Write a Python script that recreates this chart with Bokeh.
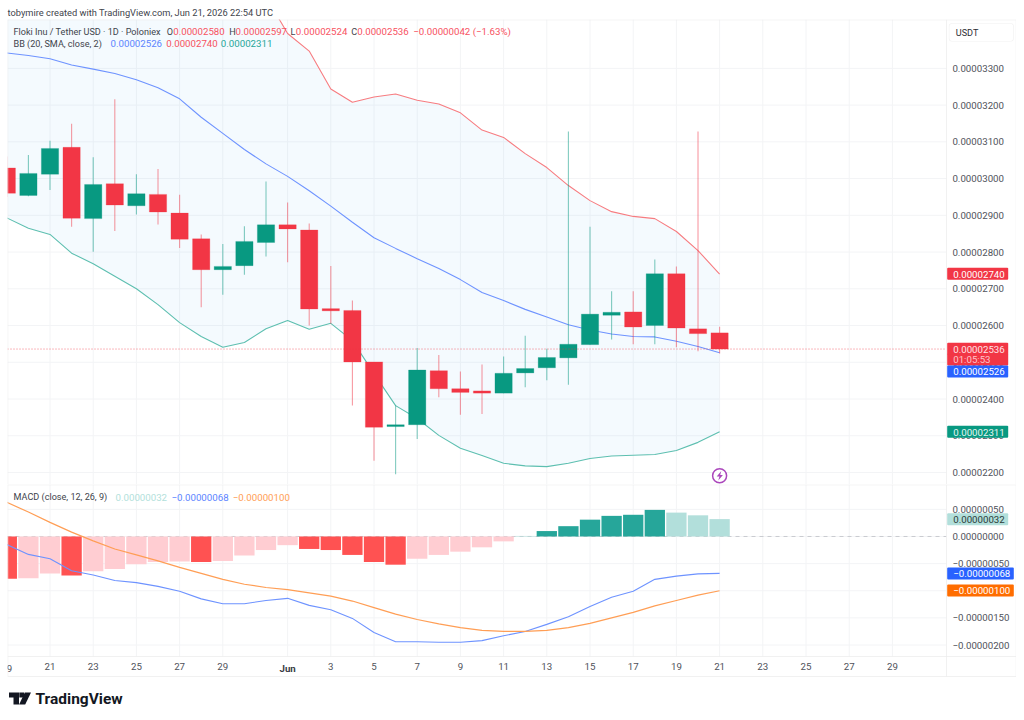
from bokeh.plotting import figure
from bokeh.layouts import column
from bokeh.models import (ColumnDataSource, Range1d, LinearAxis, FixedTicker, Label, BoxAnnotation,
                          PolyAnnotation)
from bokeh.embed import file_html
from bokeh.resources import INLINE

# all prices in units of 0.00000001 USDT
days = list(range(34))
opens = [3029,2954,3012,3085,2891,2986,2926,2957,2906,2836,2752,2763,2826,2874,2860,2646,2641,2501,2325,2330,2477,2428,2422,2416,2471,2485,2512,2548,2628,2637,2600,2741,2591,2580]
highs = [3060,3064,3103,3149,3058,3216,3012,3026,2956,2848,2822,2870,2992,2935,2878,2762,2668,2501,2382,2539,2520,2475,2494,2516,2572,2537,3128,2869,2693,2693,2780,2761,3128,2597]
lows = [2950,2952,2969,2869,2801,2857,2902,2875,2811,2650,2684,2738,2788,2772,2600,2605,2382,2232,2195,2291,2405,2357,2359,2416,2432,2451,2439,2548,2562,2549,2549,2541,2530,2524]
closes = [2960,3014,3082,2892,2984,2928,2959,2909,2835,2752,2761,2829,2874,2863,2645,2640,2501,2323,2330,2479,2428,2418,2416,2470,2483,2513,2549,2631,2636,2596,2741,2593,2578,2536]
bb_upper = [3720,3715,3700,3690,3680,3660,3640,3620,3600,3570,3540,3515,3495,3395,3347,3244,3208,3222,3230,3213,3203,3179,3132,3112,3068,3030,2981,2940,2910,2897,2891,2856,2804,2740]
bb_basis = [3342,3335,3326,3309,3298,3286,3269,3247,3217,3167,3123,3079,3040,3006,2967,2925,2881,2839,2810,2782,2755,2725,2690,2668,2644,2623,2602,2588,2577,2570,2569,2557,2543,2526]
bb_lower = [2893,2865,2848,2797,2768,2734,2700,2657,2608,2570,2541,2554,2591,2614,2590,2606,2559,2469,2382,2347,2301,2266,2246,2225,2218,2216,2225,2238,2245,2247,2249,2260,2282,2311]
macd_hist = [-78,-77,-68,-72,-64,-60,-51,-47,-46,-47,-45,-35,-25,-16,-23,-25,-34,-47,-52,-41,-34,-28,-20,-9,1,10,19,31,38,40,49,44,39,32]
macd_line = [-15,-33,-41,-63,-71,-81,-85,-92,-101,-115,-124,-124,-118,-114,-127,-135,-151,-177,-194,-194,-195,-195,-192,-183,-175,-162,-148,-129,-112,-101,-79,-73,-69,-68]
macd_signal = [63,45,26,8,-8,-23,-34,-45,-57,-68,-79,-88,-94,-98,-104,-110,-119,-131,-143,-153,-161,-168,-173,-175,-175,-173,-168,-160,-150,-140,-128,-118,-108,-100]
price_ticks = [2200,2300,2400,2500,2600,2700,2800,2900,3000,3100,3200,3300]
macd_ticks = [50,0,-50,-100,-150,-200]
time_ticks = {2:"21",4:"23",6:"25",8:"27",10:"29",13:"",15:"3",17:"5",19:"7",21:"9",23:"11",25:"13",27:"15",29:"17",31:"19",33:"21",35:"23",37:"25",39:"27",41:"29"}

UP, DOWN = "#089981", "#F23645"
FONT = "Roboto"
GRID = "#F3F4F6"
RULE = "#ECECEC"
TXT = "#4f525a"
DARK = "#41444c"
FS = "9.7px"     # numbers
FT = "9.1px"     # wording
AX_X = 43.5      # day position of the price axis

def fmt(v):
    s = f"{abs(v)*1e-8:.8f}"
    return ("\u2212" + s) if v < 0 else s

xr = Range1d(0.032, 46.745)

def make(height, yr, ticks, ylow, yhigh):
    p = figure(width=1016, height=height, x_range=xr, y_range=yr, toolbar_location=None,
               output_backend="svg", x_axis_location=None, y_axis_location=None,
               min_border_left=7, min_border_right=0, min_border_top=0, min_border_bottom=0)
    p.grid.visible = False
    p.outline_line_color = None
    if ticks:
        ax = LinearAxis(ticker=FixedTicker(ticks=ticks), fixed_location=AX_X,
                        major_label_overrides={t: fmt(t) for t in ticks},
                        major_tick_line_color=None, minor_tick_line_color=None,
                        axis_line_color=None, major_label_standoff=0,
                        major_label_text_font=FONT, major_label_text_font_size=FS, major_label_text_color=TXT)
        p.add_layout(ax, "right")
        p.segment([xr.start]*len(ticks), ticks, [AX_X]*len(ticks), ticks, line_color=GRID, line_width=1, level="underlay")
        vt = list(time_ticks)
        p.segment(vt, [ylow]*len(vt), vt, [yhigh]*len(vt), line_color=GRID, line_width=1, level="underlay")
    return p

p0 = make(19, Range1d(0, 1), None, 0, 0)
p1 = make(465, Range1d(2167.3, 3433), price_ticks, 2167.3, 3433)
p2 = make(228, Range1d(-324.4, 95.8), macd_ticks, -221.2, 95.8)

t_ax = LinearAxis(ticker=FixedTicker(ticks=list(time_ticks)), major_label_overrides=time_ticks, fixed_location=-221.2,
                  major_tick_line_color=None, minor_tick_line_color=None, axis_line_color=None,
                  major_label_standoff=0, major_label_text_font=FONT, major_label_text_font_size=FS,
                  major_label_text_color=TXT)
p2.add_layout(t_ax, "below")

# ---------- price pane
p1.varea(days, bb_lower, bb_upper, fill_color="#2196F3", fill_alpha=0.05)
p1.line(days, bb_upper, line_color="#F77C80", line_width=1.1)
p1.line(days, bb_basis, line_color="#6E93FF", line_width=1.1)
p1.line(days, bb_lower, line_color="#5DBFB0", line_width=1.1)

colors = [UP if c >= o else DOWN for o, c in zip(opens, closes)]
src = ColumnDataSource(dict(x=days, o=opens, c=closes, h=highs, l=lows, col=colors))
p1.segment("x", "h", "x", "l", source=src, line_color="col", line_alpha=0.5, line_width=1.1)
p1.vbar("x", 0.8, "o", "c", source=src, fill_color="col", line_color="col", line_alpha=0.25, line_width=1)

p1.line([xr.start, AX_X], [closes[-1]]*2, line_color=DOWN, line_dash="1 2", line_alpha=0.7, line_width=1)
p1.scatter([33], [2191], size=14, marker="circle", fill_color="white", line_color="#AB47BC", line_width=1.5)

# ---------- MACD pane
def hist_color(i):
    v = macd_hist[i]
    prev = macd_hist[i-1] if i else 0
    if v >= 0:
        return "#26A69A" if v > prev and i != 24 else "#B2DFDB"
    return "#FF5252" if v < prev else "#FFCDD2"

p2.line([xr.start, AX_X], [0, 0], line_color="#C9CBD0", line_dash="4 4", line_width=1)
p2.vbar(days, 0.94, 0, macd_hist, fill_color=[hist_color(i) for i in days], line_color=None)
p2.line(days, macd_line, line_color="#6E93FF", line_width=1.1)
p2.line(days, macd_signal, line_color="#FF9E55", line_width=1.2)

# ---------- page-coordinate helpers (frame left = 7; frame bottoms 19 / 484 / 712)
def label(p, bottom, text, X, Y, color=TXT, size=FT, style="normal", **kw):
    p.add_layout(Label(x=X-7, y=bottom-Y, x_units="screen", y_units="screen", text=text,
                       text_color=color, text_font=FONT, text_font_size=size, text_font_style=style,
                       text_baseline="middle", **kw))

def box(p, bottom, l, r, t, b, color=RULE, radius=0):
    p.add_layout(BoxAnnotation(left=l-7, right=r-7, top=bottom-t, bottom=bottom-b,
                               left_units="screen", right_units="screen", top_units="screen", bottom_units="screen",
                               fill_color=color, fill_alpha=1, line_color=None, border_radius=radius))

def tag(p, bottom, text, Y, bg, fg="white", right=1007.7):
    box(p, bottom, 946.7, right, Y-6, Y+6, bg, radius=1)
    label(p, bottom, text, 952.7, Y+0.3, fg, size=FS)

def poly(p, bottom, pts, color):
    p.add_layout(PolyAnnotation(xs=[a-7 for a, _ in pts], ys=[bottom-b for _, b in pts],
                                xs_units="screen", ys_units="screen",
                                fill_color=color, fill_alpha=1, line_color=None))

# rules
box(p1, 484, 7, 1016, 19, 19.7)
box(p1, 484, 7, 7.7, 19, 484)
box(p1, 484, 945.8, 946.5, 19, 484)
box(p1, 484, 1015.3, 1016, 19, 484)
box(p2, 712, 7, 1016, 484, 484.7)
box(p2, 712, 7, 7.7, 484, 676)
box(p2, 712, 7, 1016, 655.7, 656.4)
box(p2, 712, 7, 1016, 675.7, 676.4)
box(p2, 712, 945.8, 946.5, 484, 676)
box(p2, 712, 1015.3, 1016, 484, 676)

label(p0, 19, "tobymire created with TradingView.com, Jun 21, 2026 22:54 UTC", 7, 11.5, DARK, size="9.3px")
Y = 31
label(p1, 484, "Floki Inu / Tether USD \u00b7 1D \u00b7 Poloniex", 13, Y, DARK)
for head, hx, val, vx in [("O",166.3,"0.00002580",172.7),("H",228.7,"0.00002597",235),("L",290,"0.00002524",295.3),("C",350.7,"0.00002536",356.7)]:
    label(p1, 484, head, hx, Y, DARK)
    label(p1, 484, val, vx, Y, "#F7525F", size=FS)
label(p1, 484, "\u22120.00000042 (\u22121.63%)", 412.7, Y, "#F7525F", size=FS)
Y = 43.3
label(p1, 484, "BB (20, SMA, close, 2)", 13, Y, DARK)
label(p1, 484, "0.00002526", 110, Y, "#5B84FF", size=FS)
label(p1, 484, "0.00002740", 165.7, Y, "#F7525F", size=FS)
label(p1, 484, "0.00002311", 220.3, Y, "#26A69A", size=FS)

# USDT button
box(p1, 484, 948.3, 1013.3, 22.7, 41, "#F2F2F2", radius=3)
box(p1, 484, 948.9, 1012.7, 23.3, 40.4, "#FFFFFF", radius=3)
label(p1, 484, "USDT", 955.3, 32, "#2b2d33")

tag(p1, 484, "0.00002740", 273.3, DOWN)
tag(p1, 484, "01:05:53", 359, DOWN, "#FFC4C9")
tag(p1, 484, "0.00002536", 348.3, DOWN, "#FFE3E5")
tag(p1, 484, "0.00002526", 371, "#2962FF")
tag(p1, 484, "0.00002311", 431.2, UP, "#E6F5F1")

poly(p1, 484, [(720.8,470.6),(716.2,476),(718.9,476),(717.8,480),(722.4,474.6),(719.7,474.6)], "#AB47BC")

label(p2, 712, "MACD (close, 12, 26, 9)", 13, 496.7, DARK)
label(p2, 712, "0.00000032", 115, 496.7, "#B2DFDB", size=FS)
label(p2, 712, "\u22120.00000068", 171, 496.7, "#5B84FF", size=FS)
label(p2, 712, "\u22120.00000100", 232.3, 496.7, "#FF9E55", size=FS)

tag(p2, 712, "0.00000032", 518.8, "#B2DFDB", "#2a3a38")
tag(p2, 712, "\u22120.00000068", 573, "#2962FF", right=1013.3)
tag(p2, 712, "\u22120.00000100", 590, "#FF6D00", right=1013.3)

p2.add_layout(Label(x=0, y=712-668, x_units="data", y_units="screen", text="19", text_align="center",
                    text_baseline="middle", text_color=TXT, text_font=FONT, text_font_size=FS))
p2.add_layout(Label(x=13, y=712-668, x_units="data", y_units="screen", text="Jun", text_align="center",
                    text_baseline="middle", text_color="#3a3d45", text_font=FONT, text_font_size=FS, text_font_style="bold"))

# TradingView logo
poly(p2, 712, [(8.5,692),(18.5,692),(18.5,704),(13,704),(13,697),(8.5,697)], "#131722")
poly(p2, 712, [(18.8,692),(23.6,692),(23.6,697),(18.8,697)], "#131722")
poly(p2, 712, [(24.3,692),(30.5,692),(24.7,704),(18.6,704)], "#131722")
label(p2, 712, "TradingView", 35, 698, "#131722", size="15.5px", style="bold")

page = column(p0, p1, p2, spacing=0)
open("out.html", "w").write(file_html(page, INLINE))
